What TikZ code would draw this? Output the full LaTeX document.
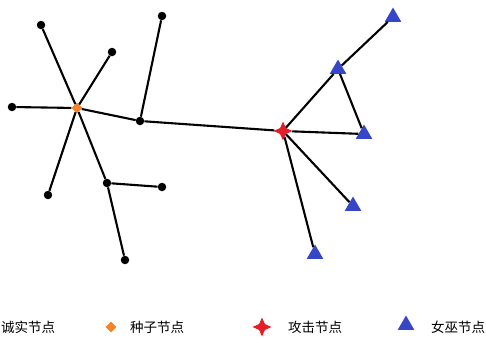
\documentclass[tikz,border=0pt]{standalone}
\usepackage{fontspec}
\newfontfamily\cjk{Noto Sans CJK SC}
\usepackage{tikz}
\usetikzlibrary{shapes.geometric,positioning}
\definecolor{seedorange}{RGB}{245,130,40}
\definecolor{attackred}{RGB}{230,30,40}
\definecolor{sybilblue}{RGB}{55,70,200}

\begin{document}
\begin{tikzpicture}[
  x=1pt, y=-1pt,
  honest/.style={circle, fill=black, inner sep=0pt, minimum size=8.5pt},
  seed/.style={diamond, fill=seedorange, inner sep=0pt, minimum size=11pt},
  attack/.style={star, star points=4, star point ratio=2.3, fill=attackred, inner sep=0pt, minimum size=19pt},
  sybil/.style={regular polygon, regular polygon sides=3, fill=sybilblue, inner sep=0pt, minimum size=19pt},
  link/.style={line width=2.1pt},
  legtext/.style={font=\cjk\fontsize{13.5}{14}\selectfont, anchor=west, inner sep=0pt}
]
\useasboundingbox (0,0) rectangle (486,338);

% Honest region
\node[seed] (s) at (77,108) {};
\node[honest] (h1) at (41,25) {};
\node[honest] (h2) at (112,52) {};
\node[honest] (h3) at (12,107) {};
\node[honest] (h4) at (140,121) {};
\node[honest] (h5) at (162,16) {};
\node[honest] (h6) at (107,183) {};
\node[honest] (h7) at (162,187) {};
\node[honest] (h8) at (48,195) {};
\node[honest] (h9) at (125,260) {};

% Sybil region
\node[attack] (a) at (283,131) {};
\node[sybil] (w1) at (393,17) {};
\node[sybil] (w2) at (338,69) {};
\node[sybil] (w3) at (364,134) {};
\node[sybil] (w4) at (353,206) {};
\node[sybil] (w5) at (315,254) {};

% Edges
\foreach \n in {h1,h2,h3,h4,h6,h8}
  \draw[link] (s) -- (\n);
\draw[link] (h4) -- (h5);
\draw[link] (h6) -- (h7);
\draw[link] (h6) -- (h9);
\draw[link] (h4) -- (a);
\foreach \n in {w2,w3,w4,w5}
  \draw[link] (a) -- (\n);
\draw[link] (w2) -- (w1);
\draw[link] (w2) -- (w3);

% Legend
\node[legtext] (lh) at (1,327) {诚实节点};
\node[seed] (ls) at (111,327) {};
\node[legtext] (lst) at (130,327) {种子节点};
\node[attack] (la) at (262,327) {};
\node[legtext] (lat) at (288,327) {攻击节点};
\node[sybil] (lw) at (406,325) {};
\node[legtext] (lwt) at (431,327) {女巫节点};
\end{tikzpicture}
\end{document}
